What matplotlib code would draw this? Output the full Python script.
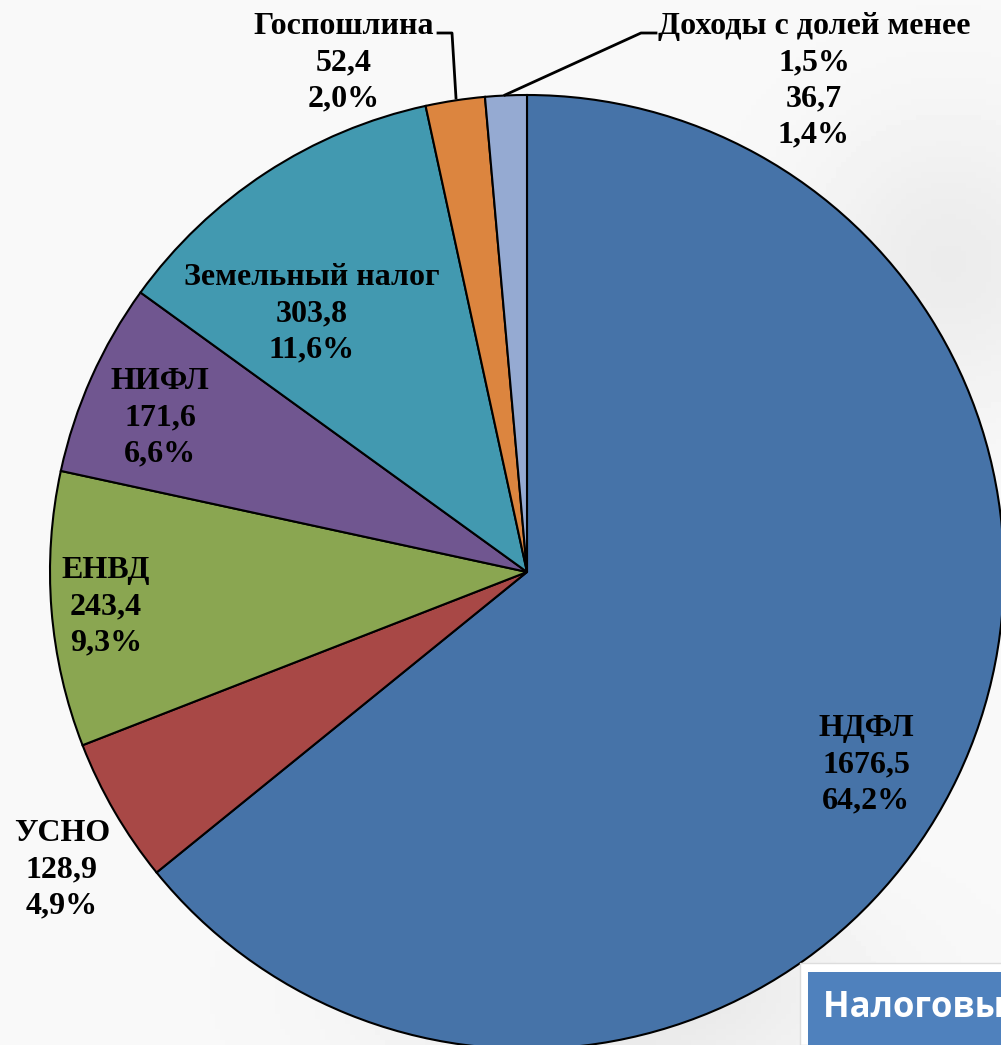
import numpy as np
import matplotlib.pyplot as plt

# данные
names = ['НДФЛ', 'УСНО', 'ЕНВД', 'НИФЛ', 'Земельный налог', 'Госпошлина',
         'Доходы с долей менее\n1,5%']
values = [1676.5, 128.9, 243.4, 171.6, 303.8, 52.4, 36.7]
colors = ['#4673A8', '#A84846', '#8AA651', '#705690', '#4299B0', '#DC853F', '#95AAD2']

W, H = 1001, 1045
# центры подписей (в пикселях)
label_pos = [(866, 765), (62, 870), (106, 607), (160, 418), (312, 314), (344, 63), (814, 81)]

fig = plt.figure(figsize=(W / 100, H / 100), dpi=100)
ax = fig.add_axes([0, 0, 1, 1])

# фон
gx = np.linspace(0, 1, 200)
gy = np.linspace(0, 1, 200)
X, Y = np.meshgrid(gx, gy)
bg = 0.975 - 0.07 * np.exp(-((X - 0.62) ** 2) / 0.05 - ((Y - 0.05) ** 2) / 0.01) \
     - 0.05 * np.exp(-((X - 0.95) ** 2) / 0.02 - ((Y - 0.75) ** 2) / 0.02)
ax.imshow(bg, cmap='gray', vmin=0, vmax=1, extent=[0, W, H, 0], zorder=0, aspect='auto')

total = sum(values)
ax.pie(values, colors=colors, startangle=90, counterclock=False,
       center=(527, H - 572), radius=477,
       wedgeprops=dict(edgecolor='black', linewidth=1.5))

font = dict(family=['Liberation Serif', 'DejaVu Serif'], fontweight='bold', fontsize=23,
            color='black', ha='center', va='center', multialignment='center', linespacing=1.33)
for name, v, (x, y) in zip(names, values, label_pos):
    pct = f'{100 * v / total:.1f}'.replace('.', ',')
    val = f'{v:.1f}'.replace('.', ',')
    ax.text(x, H - y, f'{name}\n{val}\n{pct}%', **font)

# выноски
ax.plot([438, 452, 456], [H - 33, H - 33, H - 98], color='black', lw=2)
ax.plot([656, 641, 505], [H - 33, H - 33, H - 95], color='black', lw=2)

# синяя плашка
ax.add_patch(plt.Rectangle((800, H - 1045), 220, 82, facecolor='white', edgecolor='#dddddd', lw=1, zorder=5))
ax.add_patch(plt.Rectangle((808, H - 1045), 220, 73, facecolor='#4F81BD', edgecolor='none', zorder=6))
ax.text(823, H - 1016, 'Налоговые доходы', family=['Open Sans', 'DejaVu Sans'], fontweight='bold',
        fontsize=25, color='white', ha='left', va='baseline', zorder=7)
ax.text(857, H - 1072, '2018 год', family=['Open Sans', 'DejaVu Sans'], fontweight='bold',
        fontsize=25, color='white', ha='left', va='baseline', zorder=7)

ax.set_xlim(0, W)
ax.set_ylim(0, H)
ax.set_aspect('equal')
ax.axis('off')

fig.savefig('out.png', dpi=100)
